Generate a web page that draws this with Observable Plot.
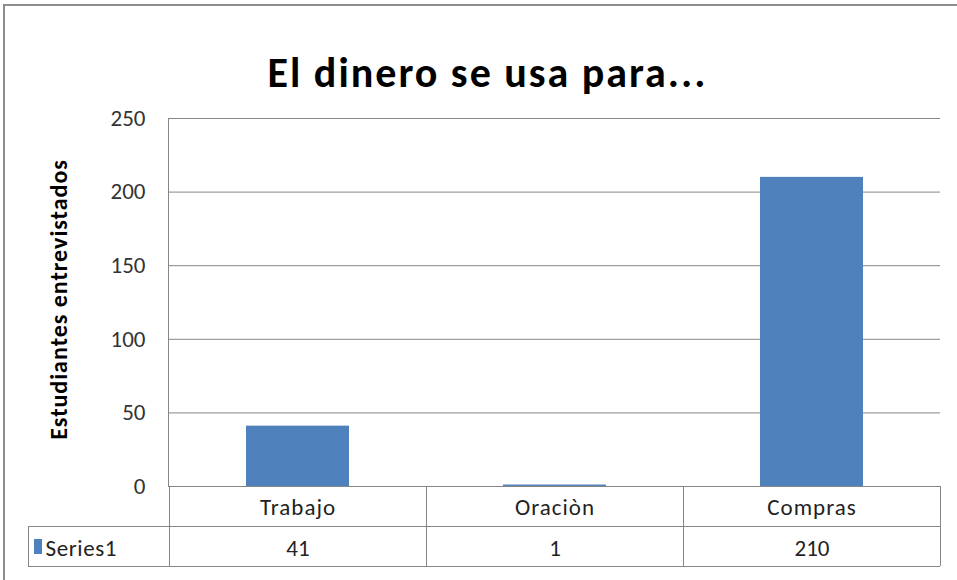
<!DOCTYPE html>
<html>
<head>
<meta charset="utf-8">
<script src="https://cdn.jsdelivr.net/npm/d3@7"></script>
<script src="https://cdn.jsdelivr.net/npm/@observablehq/plot@0.6"></script>
<style>
  html, body { margin: 0; padding: 0; background: #fff; }
  #chart { width: 957px; height: 580px; overflow: hidden; }
</style>
</head>
<body>
<div id="chart"></div>
<script>
const title = "El dinero se usa para...";
const yLabel = "Estudiantes entrevistados";
const seriesName = "Series1";
const categories = ["Trabajo", "Oraciòn", "Compras"];
const values = [41, 1, 210];
const yTicks = [0, 50, 100, 150, 200, 250];

const data = categories.map((c, i) => ({category: c, value: values[i]}));
const FONT = "Carlito, Lato, 'DejaVu Sans', sans-serif";
const BLUE = "#4F81BD";
const GRID = "#868686";

const plot = Plot.plot({
  width: 957,
  height: 580,
  marginTop: 118,
  marginBottom: 94,
  marginLeft: 168,
  marginRight: 17,
  style: {fontFamily: FONT, fontSize: "22px", color: "#333", background: "#fff", overflow: "visible"},
  x: {domain: categories, paddingInner: 0.6, paddingOuter: 0.3, axis: null},
  y: {domain: [0, 250], axis: null},
  marks: [
    Plot.gridY(yTicks, {stroke: GRID, strokeOpacity: 1}),
    Plot.frame({anchor: "left", stroke: GRID, strokeOpacity: 1}),
    Plot.axisY(yTicks, {tickSize: 0, tickPadding: 23, fontSize: 23, label: null, fill: "#333"}),
    Plot.barY(data, {x: "category", y: "value", fill: BLUE}),
    Plot.text([title], {frameAnchor: "top", dx: -67, dy: -61, text: d => d, fontSize: 42, fontWeight: "bold", fill: "#000"}),
    Plot.text([yLabel], {frameAnchor: "left", dx: -109, dy: -3, rotate: -90, textAnchor: "middle", text: d => d, fontSize: 24, fontWeight: "bold", fill: "#000"}),
    Plot.text(data, {x: "category", text: "category", frameAnchor: "bottom", dy: 21, lineAnchor: "middle", fontSize: 23, fill: "#222"}),
    Plot.text(data, {x: "category", text: d => String(d.value), frameAnchor: "bottom", dy: 62, lineAnchor: "middle", fontSize: 23, fill: "#222"}),
    Plot.text([seriesName], {frameAnchor: "bottom-left", dx: -123, dy: 62, textAnchor: "start", lineAnchor: "middle", text: d => d, fontSize: 23, fill: "#222"})
  ]
});

document.getElementById("chart").appendChild(plot);

const svg = d3.select(plot);
// letter-spacing tweaks to approximate the original Calibri widths
const spacing = new Map([[title, "2px"], [yLabel, "1px"], [seriesName, "0.6px"]]);
categories.forEach(c => spacing.set(c, "1px"));
svg.selectAll("text").each(function() {
  const t = this.textContent;
  if (spacing.has(t)) d3.select(this).attr("letter-spacing", spacing.get(t));
});

// Data-table grid and border, positioned from Plot's own x scale
const xs = plot.scale("x");
const bw = xs.bandwidth, step = xs.step;
const bounds = categories.map(c => xs.apply(c) + bw / 2 - step / 2);
bounds.push(xs.apply(categories[categories.length - 1]) + bw / 2 + step / 2);
const y0 = 486, y1 = 526, y2 = 566, xLeft = 28;
const g = svg.append("g").attr("stroke", GRID).attr("stroke-width", 1).attr("shape-rendering", "crispEdges");
bounds.forEach(bx => g.append("line").attr("x1", bx).attr("x2", bx).attr("y1", y0).attr("y2", y2));
g.append("line").attr("x1", xLeft).attr("x2", xLeft).attr("y1", y1).attr("y2", y2);
g.append("line").attr("x1", xLeft).attr("x2", bounds[bounds.length - 1]).attr("y1", y1).attr("y2", y1);
g.append("line").attr("x1", xLeft).attr("x2", bounds[bounds.length - 1]).attr("y1", y2).attr("y2", y2);
// legend key square
svg.append("rect").attr("x", 34).attr("y", 539).attr("width", 8).attr("height", 15).attr("fill", BLUE);
// outer chart border
svg.append("rect").attr("x", 4).attr("y", 5).attr("width", 980).attr("height", 620)
  .attr("fill", "none").attr("stroke", "#8c8c8c").attr("stroke-width", 2);
</script>
</body>
</html>
